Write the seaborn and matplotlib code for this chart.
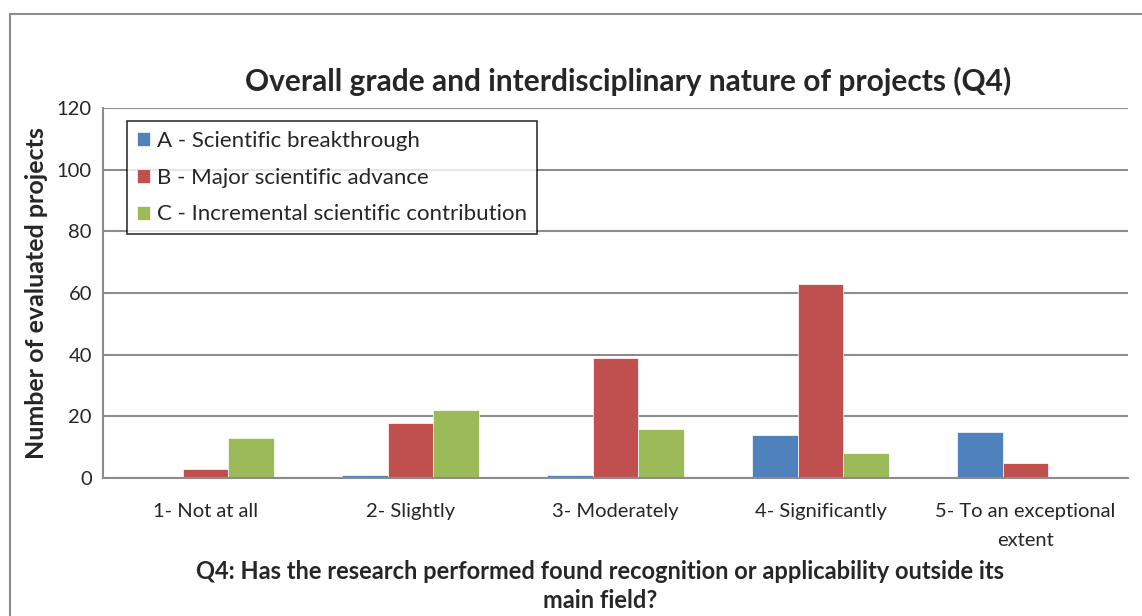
import pandas as pd
import seaborn as sns
import matplotlib
matplotlib.use("Agg")
import matplotlib.pyplot as plt
from matplotlib.patches import Rectangle

# data
categories = ["1- Not at all", "2- Slightly", "3- Moderately", "4- Significantly",
              "5- To an exceptional\nextent"]
series_names = ["A - Scientific breakthrough", "B - Major scientific advance",
                "C - Incremental scientific contribution"]
grade_a = [0, 1, 1, 14, 15]
grade_b = [3, 18, 39, 63, 5]
grade_c = [13, 22, 16, 8, 0]
yticks = [0, 20, 40, 60, 80, 100, 120]

colors = ["#4F81BD", "#C0504D", "#9BBB59"]

rows = []
for name, vals in zip(series_names, [grade_a, grade_b, grade_c]):
    for cat, v in zip(categories, vals):
        rows.append({"cat": cat, "grade": name, "count": v})
df = pd.DataFrame(rows)

sns.set_theme(style="white")
plt.rcParams["font.family"] = ["Lato", "DejaVu Sans"]

fig = plt.figure(figsize=(11.42, 6.16), dpi=100)
ax = fig.add_axes([103 / 1142, 1 - 478 / 616, 1025 / 1142, 370 / 616])

sns.barplot(data=df, x="cat", y="count", hue="grade", palette=colors,
            width=0.67, ax=ax, saturation=1, edgecolor="white", linewidth=0.5)

ax.set_ylim(0, 120)
ax.set_yticks(yticks)
ax.set_yticklabels(yticks, fontsize=14.5)
ax.set_xticks(range(len(categories)))
ax.set_xticklabels(categories, fontsize=14.5, linespacing=1.85)
ax.tick_params(axis="x", length=0, pad=18)
ax.tick_params(axis="y", length=0, pad=8)
ax.yaxis.grid(True, color="#8c8c8c", linewidth=1.5)
ax.set_axisbelow(True)
for s in ["top", "right"]:
    ax.spines[s].set_visible(False)
for s in ["left", "bottom"]:
    ax.spines[s].set_color("#8c8c8c")
    ax.spines[s].set_linewidth(1.5)

ax.set_xlabel("Q4: Has the research performed found recognition or applicability outside its\nmain field?",
              fontsize=17, fontweight="bold", labelpad=8, linespacing=1.3)
ax.xaxis.label.set_x(0.5 - 15 / 1025)
ax.set_ylabel("Number of evaluated projects", fontsize=18, fontweight="bold", labelpad=6)
ax.set_title("Overall grade and interdisciplinary nature of projects (Q4)",
             fontsize=21.5, fontweight="bold", pad=12, x=0.5 + 13 / 1025)

leg = ax.legend(loc="upper left", bbox_to_anchor=(13 / 1025, 1 - 2 / 370), fontsize=16,
                frameon=True, fancybox=False, edgecolor="black", handlelength=0.6,
                handleheight=0.6, handletextpad=0.3, labelspacing=0.75, borderpad=0.45)
leg.get_frame().set_linewidth(1.2)

# outer chart border
fig.patches.append(Rectangle((10 / 1142, -0.1), 1.2, 1 - 14 / 616 + 0.1,
                             transform=fig.transFigure, fill=False,
                             edgecolor="#8c8c8c", linewidth=1.5))

fig.savefig("out.png", dpi=100)
